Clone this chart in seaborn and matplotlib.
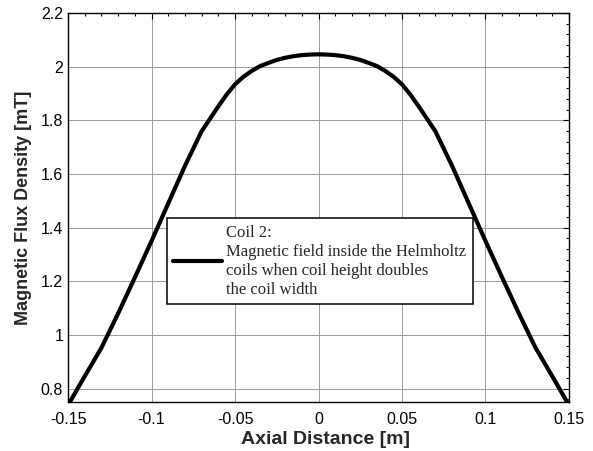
import numpy as np
import pandas as pd
import matplotlib
matplotlib.use('Agg')
import matplotlib.pyplot as plt
from matplotlib.ticker import MultipleLocator, FormatStrFormatter
import seaborn as sns

# ─── Data ─────────────────────────────────────────────────────────────────────
axial_dist = [-0.15, -0.14, -0.13, -0.12, -0.11, -0.10, -0.09, -0.08,
              -0.07, -0.06, -0.055, -0.05, -0.045, -0.04, -0.035, -0.03,
              -0.025, -0.02, -0.015, -0.01, -0.005, 0.00,
              0.005, 0.01, 0.015, 0.02, 0.025, 0.03, 0.035, 0.04, 0.045,
              0.05, 0.055, 0.06, 0.07, 0.08, 0.09, 0.10, 0.11, 0.12,
              0.13, 0.14, 0.15]
flux_mT = [0.738, 0.846, 0.952, 1.080, 1.214, 1.350, 1.490, 1.630,
           1.759, 1.852, 1.896, 1.934, 1.962, 1.984, 2.002, 2.014,
           2.025, 2.033, 2.039, 2.043, 2.045, 2.046,
           2.045, 2.043, 2.039, 2.033, 2.025, 2.014, 2.002, 1.984, 1.962,
           1.934, 1.896, 1.852, 1.759, 1.630, 1.490, 1.350, 1.214, 1.080,
           0.952, 0.846, 0.738]
x_ticks = [-0.15, -0.1, -0.05, 0, 0.05, 0.1, 0.15]
y_ticks = [0.8, 1.0, 1.2, 1.4, 1.6, 1.8, 2.0, 2.2]
legend_label = ('Coil 2:\nMagnetic field inside the Helmholtz\n'
                'coils when coil height doubles\nthe coil width')

df = pd.DataFrame({'x': axial_dist, 'B': flux_mT})

sns.set_theme(style='white')
plt.rcParams['font.family'] = ['Liberation Sans', 'DejaVu Sans']
plt.rcParams['axes.unicode_minus'] = False

fig = plt.figure(figsize=(5.93, 4.51), dpi=100)
ax = fig.add_axes([0.1147, 0.1086, 0.8448, 0.8626])

sns.lineplot(data=df, x='x', y='B', ax=ax, color='black', lw=3,
             label=legend_label)

ax.set_xlim(-0.15, 0.15)
ax.set_ylim(0.75, 2.2)
ax.set_xticks(x_ticks)
ax.set_yticks(y_ticks)
ax.xaxis.set_major_formatter(FormatStrFormatter('%g'))
ax.yaxis.set_major_formatter(FormatStrFormatter('%g'))
ax.xaxis.set_minor_locator(MultipleLocator(0.01))
ax.yaxis.set_minor_locator(MultipleLocator(0.04))
ax.tick_params(which='both', direction='in', top=True, right=True,
               colors='black', labelsize=11.5, width=0.8)
ax.tick_params(axis='x', which='major', pad=7)
ax.tick_params(which='major', length=4)
ax.tick_params(which='minor', length=2.5)
ax.grid(True, which='major', color='#9a9a9a', lw=0.7)
for s in ax.spines.values():
    s.set_color('black'); s.set_linewidth(1)

ax.set_xlabel('Axial Distance [m]', fontsize=14, fontweight='bold', labelpad=3)
ax.xaxis.label.set_x(0.513)
ax.set_ylabel('Magnetic Flux Density [mT]', fontsize=13, fontweight='bold', labelpad=6)

leg = ax.legend(loc='upper left', bbox_to_anchor=(0.197, 0.473),
                borderaxespad=0, fancybox=False, framealpha=1,
                edgecolor='black', handlelength=2.9, handletextpad=0.25,
                borderpad=0.4, prop={'family': 'Liberation Serif', 'size': 12})
leg.get_frame().set_linewidth(1.1)
leg.get_texts()[0].set_linespacing(1.25)

fig.savefig('out.png', dpi=100)
